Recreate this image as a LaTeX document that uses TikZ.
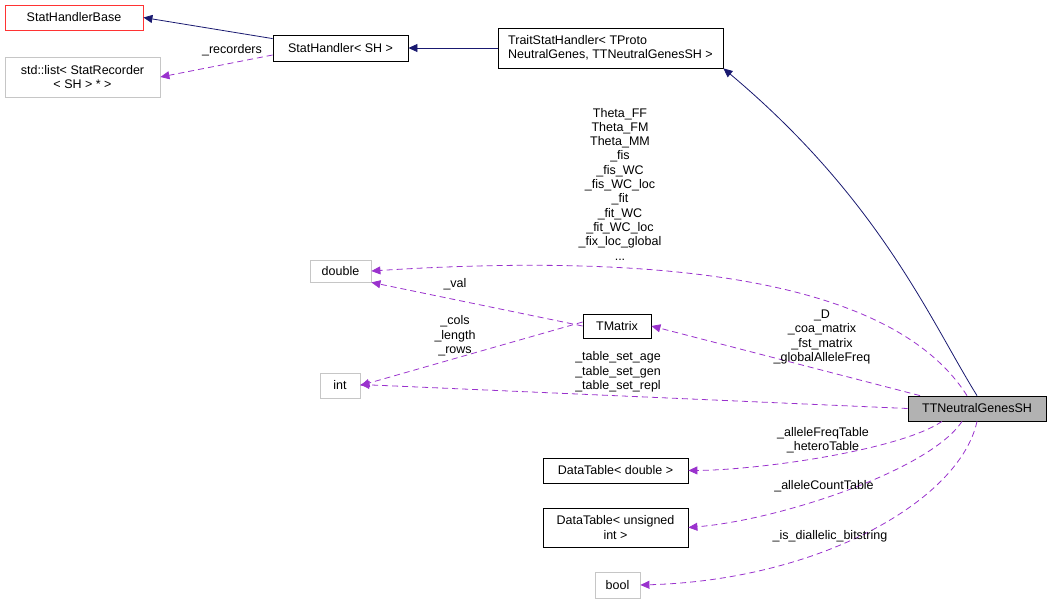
\documentclass[tikz,border=0pt]{standalone}
\usepackage{fontspec}
\setmainfont{Liberation Sans}
\usetikzlibrary{arrows.meta}
\definecolor{navy}{RGB}{25,25,112}
\definecolor{purp}{RGB}{154,50,205}
\tikzset{
  cls/.style = {draw=black, line width=0.8pt, inner sep=3pt, font=\fontsize{12.5}{14.3}\selectfont, align=center},
  ext/.style = {cls, draw=gray!45},
  inh/.style = {draw=navy, line width=0.8pt, -{Triangle[length=9pt,width=8pt]}},
  use/.style = {draw=purp, dashed, dash pattern=on 6pt off 4pt, line width=0.8pt, -{Triangle[length=9pt,width=8pt]}},
  lbl/.style = {font=\fontsize{12.5}{14.3}\selectfont, align=center, inner sep=0pt}
}
\begin{document}
\begin{tikzpicture}[x=1pt,y=-1pt]
    \useasboundingbox (0,0) rectangle (1052,605);

    \node[cls, draw=red!80, minimum width=138pt, minimum height=25pt] (base) at (74,17.5) {StatHandlerBase};
    \node[ext, minimum width=155pt, minimum height=40pt] (list) at (82.5,77) {std::list< StatRecorder\\< SH > * >};
    \node[cls, minimum width=135pt, minimum height=26pt] (sh) at (340.5,48) {StatHandler< SH >};
    \node[cls, minimum width=225pt, minimum height=40pt, align=left] (trait) at (610.5,48) {TraitStatHandler< TProto\\NeutralGenes, TTNeutralGenesSH >};
    \node[ext, minimum width=61pt, minimum height=22pt] (dbl) at (340.5,271) {double};
    \node[ext, minimum width=40pt, minimum height=25pt] (int) at (340,385.5) {int};
    \node[cls, minimum width=68pt, minimum height=24pt] (tmat) at (617,326) {TMatrix};
    \node[cls, fill=gray!60, minimum width=138pt, minimum height=25pt] (ttn) at (977,408.5) {TTNeutralGenesSH};
    \node[cls, minimum width=145pt, minimum height=25pt] (dtd) at (615.5,470.5) {DataTable< double >};
    \node[cls, minimum width=145pt, minimum height=39pt] (dtu) at (615.5,527.5) {DataTable< unsigned\\int >};
    \node[ext, minimum width=45pt, minimum height=26pt] (bool) at (617.5,585) {bool};

    % inheritance
    \draw[inh] (ttn.north) .. controls (930,320) and (880,200) .. (trait.south east) ;
    \draw[inh] (trait.west) -- (sh.east);
    \draw[inh] (sh.north west) ++(0,4) coordinate (shb) (shb) -- (base.east);

    % members
    \draw[use] (sh.west) ++(0,7) coordinate (shl) (shl) -- (list.east);
    \node[lbl] (lrec) at (232,50) {\_recorders};

    \draw[use] ([xshift=-10pt]ttn.north) .. controls (900,290) and (700,250) .. (dbl.east);
    \node[lbl] (lstack) at (620,184) {Theta\_FF\\Theta\_FM\\Theta\_MM\\\_fis\\\_fis\_WC\\\_fis\_WC\_loc\\\_fit\\\_fit\_WC\\\_fit\_WC\_loc\\\_fix\_loc\_global\\...};

    \draw[use] (tmat.west) -- (dbl.south east);
    \node[lbl] (lval) at (455,284) {\_val};
    \draw[use] ([yshift=4pt]tmat.west) -- (int.east);
    \node[lbl] (lcols) at (455,336) {\_cols\\\_length\\\_rows};

    \draw[use] ([xshift=-57pt]ttn.north) -- (tmat.east);
    \node[lbl] (ld) at (822,337) {\_D\\\_coa\_matrix\\\_fst\_matrix\\\_globalAlleleFreq};
    \draw[use] (ttn.west) -- ([yshift=1pt]int.east);
    \node[lbl] (ltab) at (618,372) {\_table\_set\_age\\\_table\_set\_gen\\\_table\_set\_repl};

    \draw[use] ([xshift=-35pt]ttn.south) .. controls (900,450) and (760,470) .. (dtd.east);
    \node[lbl] (lfreq) at (823,440) {\_alleleFreqTable\\\_heteroTable};
    \draw[use] ([xshift=-15pt]ttn.south) .. controls (930,470) and (780,520) .. (dtu.east);
    \node[lbl] (lcnt) at (824,486) {\_alleleCountTable};
    \draw[use] (ttn.south) .. controls (960,500) and (820,580) .. (bool.east);
    \node[lbl] (lbit) at (830,536) {\_is\_diallelic\_bitstring};
\end{tikzpicture}
\end{document}
